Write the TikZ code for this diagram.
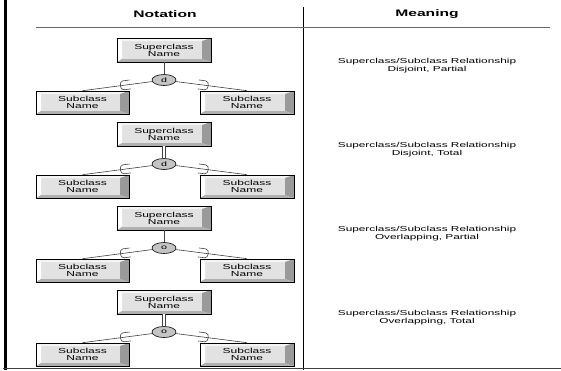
\documentclass[tikz,border=0pt]{standalone}
\usepackage{fontspec}
\setmainfont{Liberation Sans}
\newfontfamily\widesans[FakeStretch=1.65]{Liberation Sans}
\usetikzlibrary{shapes.geometric,calc,decorations.markings}
\definecolor{face}{HTML}{E2E2E2}
\definecolor{bevtop}{HTML}{F4F4F4}
\definecolor{bevleft}{HTML}{FFFFFF}
\definecolor{bevright}{HTML}{9A9A9A}
\definecolor{bevbottom}{HTML}{B0B0B0}
\definecolor{discfill}{HTML}{C4C4C4}
\definecolor{wire}{HTML}{404040}
\tikzset{
  classbox/.style={draw=black, line width=0.6bp, fill=face,
    minimum width=#1, minimum height=24bp, inner sep=0pt, align=center,
    font=\widesans\fontsize{7.3}{7.2}\selectfont,
    path picture={
      \fill[bevtop] (path picture bounding box.north west) -- (path picture bounding box.north east)
        -- ($(path picture bounding box.north east)+(-9,3)$) -- ($(path picture bounding box.north west)+(5,3)$) -- cycle;
      \fill[bevleft] (path picture bounding box.north west) -- ($(path picture bounding box.north west)+(5,3)$)
        -- ($(path picture bounding box.south west)+(5,-3)$) -- (path picture bounding box.south west) -- cycle;
      \fill[bevright] (path picture bounding box.north east) -- (path picture bounding box.south east)
        -- ($(path picture bounding box.south east)+(-9,-3)$) -- ($(path picture bounding box.north east)+(-9,3)$) -- cycle;
      \fill[bevbottom] (path picture bounding box.south west) -- (path picture bounding box.south east)
        -- ($(path picture bounding box.south east)+(-9,-3)$) -- ($(path picture bounding box.south west)+(5,-3)$) -- cycle;
    }},
  disc/.style={ellipse, draw=black, line width=0.6bp, fill=discfill, minimum width=24bp,
    minimum height=11bp, inner sep=0pt, font=\widesans\fontsize{6.5}{6.5}\selectfont},
  wireline/.style={draw=wire, line width=0.6bp},
  totalline/.style={draw=wire, line width=0.6bp, double distance=2bp},
  subset/.style={postaction={decorate}, decoration={markings, mark=at position #1 with {
      \draw[wire, line width=0.6bp] (-6,4.5) -- (1,4.5) .. controls (5,4.5) and (5,-4.5) .. (1,-4.5) -- (-6,-4.5);}}},
  meaning/.style={align=center, font=\widesans\fontsize{7.2}{7.5}\selectfont, inner sep=0pt},
  header/.style={font=\widesans\bfseries\fontsize{9.5}{10}\selectfont, inner sep=0pt},
  frame/.style={draw=black, line width=#1}
}
\begin{document}
\begin{tikzpicture}[x=1bp,y=-1bp]
\useasboundingbox (0,0) rectangle (561,370);
% table frame
\draw[frame=3bp] (5,0) -- (5,370);
\draw[frame=0.8bp] (303,7) -- (303,370);
\draw[draw=black!75, line width=1.4bp] (3,368.5) -- (561,368.5);
\draw[draw=black!60, line width=0.6bp] (36,27) -- (550,27);
\node[header] (hnot) at (165,14) {Notation};
\node[header] (hmean) at (427,14) {Meaning};
% four specialization patterns
\foreach \r/\lab/\tot/\kind in {0/d/0/{Disjoint, Partial}, 1/d/1/{Disjoint, Total}, 2/o/0/{Overlapping, Partial}, 3/o/1/{Overlapping, Total}} {
  \begin{scope}[yshift=-84*\r bp]
    \node[classbox=94bp] (sup\r) at (164,50) {Superclass\\Name};
    \node[disc] (c\r) at (164,80) {\lab};
    \node[classbox=93bp, minimum height=23bp] (l\r) at (82.5,102.5) {Subclass\\Name};
    \node[classbox=94bp, minimum height=23bp] (r\r) at (247,102.5) {Subclass\\Name};
    \ifnum\tot=1
      \draw[totalline] (sup\r.south) -- (c\r.north);
    \else
      \draw[wireline] (sup\r.south) -- (c\r.north);
    \fi
    \draw[wireline, subset=0.4] (c\r) -- (l\r.north);
    \draw[wireline, subset=0.4] (c\r) -- (r\r.north);
    \node[meaning] (m\r) at (427,65.5) {Superclass/Subclass Relationship\\\kind};
  \end{scope}
}
\end{tikzpicture}
\end{document}
